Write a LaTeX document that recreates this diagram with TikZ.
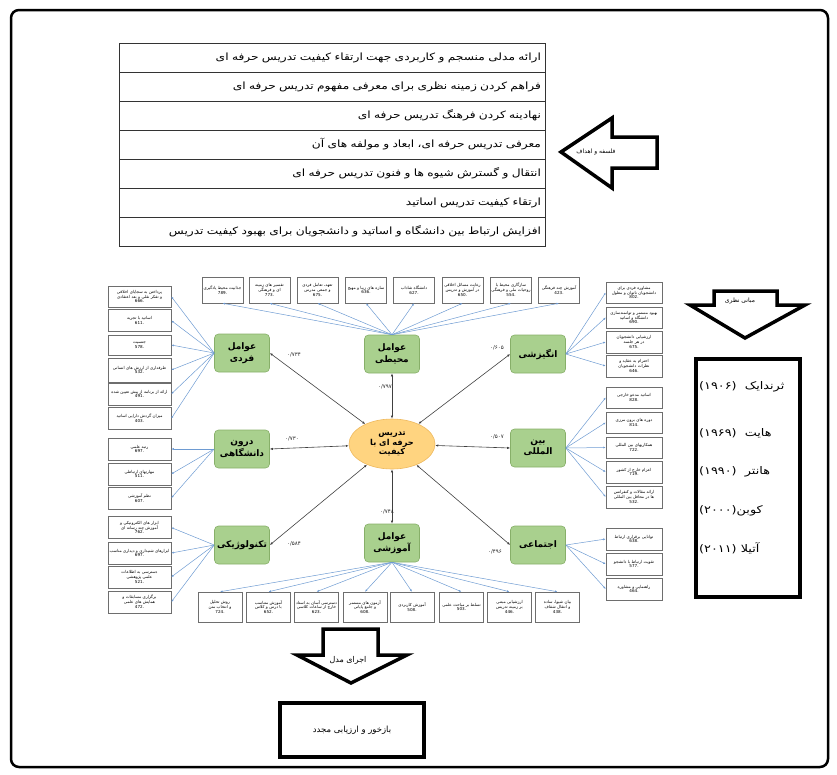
\documentclass[tikz,border=0pt]{standalone}
\usepackage{fontspec}
\usetikzlibrary{arrows.meta,shapes.geometric}
\TeXXeTstate=1
\newfontfamily\arabicfont[Script=Arabic]{DejaVu Sans}
\newfontfamily\widefont[Script=Arabic,FakeStretch=1.22]{DejaVu Sans}
\newcommand\fa[1]{{\arabicfont\beginR #1\endR}}
\newcommand\fw[1]{{\widefont\beginR #1\endR}}
\definecolor{latfill}{RGB}{169,208,142}
\definecolor{latdraw}{RGB}{135,175,105}
\definecolor{ellfill}{RGB}{255,212,128}
\definecolor{elldraw}{RGB}{238,185,95}
\definecolor{bl}{RGB}{110,155,210}
\definecolor{indgray}{RGB}{110,110,110}
\tikzset{
  rowcell/.style={draw=black!80, line width=0.7pt, minimum width=426pt, minimum height=29pt, text width=418pt, align=right, inner sep=4pt, font=\widefont\fontsize{10}{12}\selectfont},
  bigarrow/.style={draw=black, line width=3.5pt, line join=miter, fill=white},
  lat/.style={draw=latdraw, fill=latfill, rounded corners=4pt, line width=0.6pt, minimum width=55pt, minimum height=38pt, inner sep=0pt, align=center, font=\arabicfont\bfseries\fontsize{9}{11.5}\selectfont},
  core/.style={ellipse, draw=elldraw, fill=ellfill, line width=0.6pt, minimum width=86pt, minimum height=50pt, inner sep=0pt, align=center, font=\arabicfont\bfseries\fontsize{8.2}{9.6}\selectfont},
  ind/.style={draw=indgray, line width=0.5pt, fill=white, inner sep=0.6pt, align=center, font=\arabicfont\fontsize{4.1}{4.9}\selectfont},
  indS/.style={ind, minimum width=63pt, text width=61pt},
  indR/.style={ind, minimum width=56pt, text width=54pt},
  indT/.style={ind, minimum width=41pt, minimum height=26pt, text width=40pt},
  indB/.style={ind, minimum width=44pt, minimum height=30pt, text width=43pt},
  ld/.style={draw=bl, line width=0.5pt, -{Latex[length=2.5pt,width=2pt]}},
  sa/.style={draw=black!75, line width=0.6pt, {Latex[length=3pt,width=2.4pt]}-{Latex[length=3pt,width=2.4pt]}},
  coef/.style={font=\arabicfont\fontsize{5.5}{6}\selectfont, inner sep=0pt, text=black!85},
  yrname/.style={anchor=west, inner sep=0pt, font=\widefont\fontsize{10.5}{12}\selectfont},
  arlabel/.style={inner sep=0pt, font=\arabicfont\fontsize{6}{7}\selectfont},
}
\begin{document}
\begin{tikzpicture}[x=1pt,y=-1pt]
\useasboundingbox (0,0) rectangle (837,774);
\draw[line width=2.5pt, rounded corners=8pt] (11,10) rectangle (828,767);

% goals table
\node[rowcell] (r1) at (332,57.5) {\fw{ارائه مدلی منسجم و کاربردی جهت ارتقاء کیفیت تدریس حرفه ای}};
\node[rowcell] (r2) at (332,86.5) {\fw{فراهم کردن زمینه نظری برای معرفی مفهوم تدریس حرفه ای}};
\node[rowcell] (r3) at (332,115.5) {\fw{نهادینه کردن فرهنگ تدریس حرفه ای}};
\node[rowcell] (r4) at (332,144.5) {\fw{معرفی تدریس حرفه ای، ابعاد و مولفه های آن}};
\node[rowcell] (r5) at (332,173.5) {\fw{انتقال و گسترش شیوه ها و فنون تدریس حرفه ای}};
\node[rowcell] (r6) at (332,202.5) {\fw{ارتقاء کیفیت تدریس اساتید}};
\node[rowcell] (r7) at (332,231.5) {\fw{افزایش ارتباط بین دانشگاه و اساتید و دانشجویان برای بهبود کیفیت تدریس}};

% left arrow
\draw[bigarrow] (561,152) -- (612,118) -- (612,137) -- (657,137) -- (657,168) -- (612,168) -- (612,188) -- cycle;
\node[arlabel] (phil) at (596,152) {\fa{فلسفه و اهداف}};

% right down arrow
\draw[bigarrow] (714,291) -- (777,291) -- (777,305) -- (805,305) -- (745,338) -- (690,305) -- (714,305) -- cycle;
\node[arlabel] (theory) at (740,301) {\fa{مبانی نظری}};

% names box
\node[draw, line width=3.5pt, minimum width=104pt, minimum height=238pt, inner sep=0pt] (names) at (748,478) {};
\node[yrname] (n1) at (699,387) {\widefont (۱۹۰۶)\ \ \beginR ثرندایک\endR};
\node[yrname] (n2) at (699,433) {\widefont (۱۹۶۹)\ \ \beginR هایت\endR};
\node[yrname] (n3) at (699,472) {\widefont (۱۹۹۰)\ \ \beginR هانتر\endR};
\node[yrname] (n4) at (699,511) {\widefont (۲۰۰۰)\beginR کوبن\endR};
\node[yrname] (n5) at (699,548) {\widefont (۲۰۱۱)\ \beginR آتیلا\endR};

% bottom arrow and box
\draw[bigarrow] (323,629) -- (378,629) -- (378,655) -- (407,655) -- (351,683) -- (297,655) -- (323,655) -- cycle;
\node[arlabel, font=\arabicfont\fontsize{8}{9}\selectfont] (run) at (348,660) {\fa{اجرای مدل}};
\node[draw, line width=3.5pt, minimum width=144pt, minimum height=54pt, font=\arabicfont\fontsize{8.5}{10}\selectfont] (fb) at (352,730) {\fa{بازخور و ارزیابی مجدد}};

% core model
\node[core] (core) at (392,444) {\fa{تدریس}\\\fa{حرفه ای با}\\\fa{کیفیت}};
\node[lat] (fard) at (242,353) {\fa{عوامل}\\\fa{فردی}};
\node[lat] (mohit) at (392,354) {\fa{عوامل}\\\fa{محیطی}};
\node[lat] (angiz) at (538,354) {\fa{انگیزشی}};
\node[lat] (daroon) at (242,449) {\fa{درون}\\\fa{دانشگاهی}};
\node[lat] (bein) at (538,448) {\fa{بین}\\\fa{المللی}};
\node[lat] (tech) at (242,545) {\fa{تکنولوژیکی}};
\node[lat] (amoz) at (392,543) {\fa{عوامل}\\\fa{آموزشی}};
\node[lat] (ejtem) at (538,545) {\fa{اجتماعی}};

\draw[sa] (core) -- (fard.east);
\draw[sa] (core.north) -- (mohit.south);
\draw[sa] (core) -- (angiz.west);
\draw[sa] (core) -- (daroon.east);
\draw[sa] (core) -- (bein.west);
\draw[sa] (core) -- (tech.east);
\draw[sa] (core.south) -- (amoz.north);
\draw[sa] (core) -- (ejtem.west);

\node[coef] (cf1) at (294,355) {۰/۷۳۴};
\node[coef] (cf2) at (385,387) {۰/۷۹۷};
\node[coef] (cf3) at (497,348) {۰/۶۰۵};
\node[coef] (cf4) at (292,439) {۰/۷۳۰};
\node[coef] (cf5) at (497,437) {۰/۵۰۷};
\node[coef] (cf6) at (294,544) {۰/۵۸۴};
\node[coef] (cf7) at (387,512) {۰/۷۴۸};
\node[coef] (cf8) at (495,552) {۰/۴۹۶};

% individual indicators (left)
\node[indS, minimum height=21pt] (f1) at (139.5,296.5) {\fa{پرداختن به سجایای اخلاقی و تفکر نقلی و بعد اعتقادی}\\.666};
\node[indS, minimum height=22pt] (f2) at (139.5,320.5) {\fa{اساتید با تجربه}\\.611};
\node[indS, minimum height=20pt] (f3) at (139.5,345) {\fa{جنسیت}\\.578};
\node[indS, minimum height=24pt] (f4) at (139.5,370) {\fa{طرفداری از ارزش های انسانی}\\.532};
\node[indS, minimum height=22pt] (f5) at (139.5,394) {\fa{ارائه از برنامه از پیش تعیین شده}\\.491};
\node[indS, minimum height=22pt] (f6) at (139.5,418.5) {\fa{میزان گردش دارایی اساتید}\\.403};
\foreach \i in {1,...,6} \draw[ld] (fard.west) -- (f\i.east);

\node[indS, minimum height=22pt] (d1) at (139.5,449) {\fa{رتبه علمی}\\.697};
\node[indS, minimum height=22pt] (d2) at (139.5,474) {\fa{مهارتهای ارتباطی}\\.511};
\node[indS, minimum height=22pt] (d3) at (139.5,498) {\fa{نظم آموزشی}\\.607};
\foreach \i in {1,...,3} \draw[ld] (daroon.west) -- (d\i.east);

\node[indS, minimum height=22pt] (k1) at (139.5,527.5) {\fa{ابزار های الکترونیکی و آموزش چند رسانه ای}\\.762};
\node[indS, minimum height=22pt] (k2) at (139.5,553) {\fa{ابزارهای شنیداری و دیداری مناسب}\\.697};
\node[indS, minimum height=22pt] (k3) at (139.5,577) {\fa{دسترسی به اطلاعات علمی پژوهشی}\\.521};
\node[indS, minimum height=22pt] (k4) at (139.5,602) {\fa{برگزاری مسابقات و همایش های علمی}\\.472};
\foreach \i in {1,...,4} \draw[ld] (tech.west) -- (k\i.east);

% right indicators
\node[indR, minimum height=21pt] (g1) at (634,292.5) {\fa{مشاوره فردی برای دانشجویان ناتوان و معلول}\\.802};
\node[indR, minimum height=21pt] (g2) at (634,317.5) {\fa{بهبود مستمر و توانمندسازی دانشگاه و اساتید}\\.690};
\node[indR, minimum height=22pt] (g3) at (634,342) {\fa{ارزشیابی دانشجویان در هر جلسه}\\.675};
\node[indR, minimum height=22pt] (g4) at (634,366) {\fa{احترام به عقاید و نظرات دانشجویان}\\.646};
\foreach \i in {1,...,4} \draw[ld] (angiz.east) -- (g\i.west);

\node[indR, minimum height=21pt] (b1) at (634,397.5) {\fa{اساتید مدعو خارجی}\\.828};
\node[indR, minimum height=21pt] (b2) at (634,422.5) {\fa{دوره های برون مرزی}\\.814};
\node[indR, minimum height=21pt] (b3) at (634,447.5) {\fa{همکاریهای بین المللی}\\.722};
\node[indR, minimum height=22pt] (b4) at (634,472) {\fa{اعزام خارج از کشور}\\.719};
\node[indR, minimum height=22pt] (b5) at (634,497) {\fa{ارائه مقالات و کنفرانس ها در محافل بین المللی}\\.532};
\foreach \i in {1,...,5} \draw[ld] (bein.east) -- (b\i.west);

\node[indR, minimum height=22pt] (e1) at (634,539) {\fa{توانایی برقراری ارتباط}\\.638};
\node[indR, minimum height=22pt] (e2) at (634,564) {\fa{تقویت ارتباط با دانشجو}\\.577};
\node[indR, minimum height=22pt] (e3) at (634,589) {\fa{راهنمایی و مشاوره}\\.464};
\foreach \i in {1,...,3} \draw[ld] (ejtem.east) -- (e\i.west);

% top indicators
\node[indT] (m1) at (222.5,290) {\fa{جذابیت محیط یادگیری}\\.789};
\node[indT] (m2) at (269.5,290) {\fa{تفسیر های زمینه ای و فرهنگی}\\.773};
\node[indT] (m3) at (317.5,290) {\fa{تعهد، تعامل فردی و جمعی مدرس}\\.675};
\node[indT] (m4) at (366,290) {\fa{سازه های زیبا و مهیج}\\.636};
\node[indT] (m5) at (414,290) {\fa{دانشگاه شاداب}\\.627};
\node[indT] (m6) at (462.5,290) {\fa{رعایت مسائل اخلاقی در آموزش و تدریس}\\.650};
\node[indT] (m7) at (511,290) {\fa{سازگاری محیط با روحیات ملی و فرهنگی}\\.554};
\node[indT] (m8) at (559,290) {\fa{آموزش چند فرهنگی}\\.423};
\foreach \i in {1,...,8} \draw[ld] (mohit.north) -- (m\i.south);

% bottom indicators
\node[indB] (a1) at (220,607) {\fa{روش تحلیل و انتخاب متن}\\.724};
\node[indB] (a2) at (268.5,607) {\fa{آموزش متناسب با درس و کلاس}\\.652};
\node[indB] (a3) at (316.5,607) {\fa{دسترسی آسان به استاد خارج از ساعات کلاسی}\\.623};
\node[indB] (a4) at (365,607) {\fa{آزمون های مستمر و جامع پایانی}\\.608};
\node[indB] (a5) at (412,607) {\fa{آموزش کاربردی}\\.508};
\node[indB] (a6) at (461.5,607) {\fa{تسلط بر مباحث علمی}\\.503};
\node[indB] (a7) at (509.5,607) {\fa{ارزشیابی مبتنی بر زمینه تدریس}\\.446};
\node[indB] (a8) at (557.5,607) {\fa{بیان شیوا، ساده و انتقال شفاف}\\.438};
\foreach \i in {1,...,8} \draw[ld] (amoz.south) -- (a\i.north);
\end{tikzpicture}
\end{document}
